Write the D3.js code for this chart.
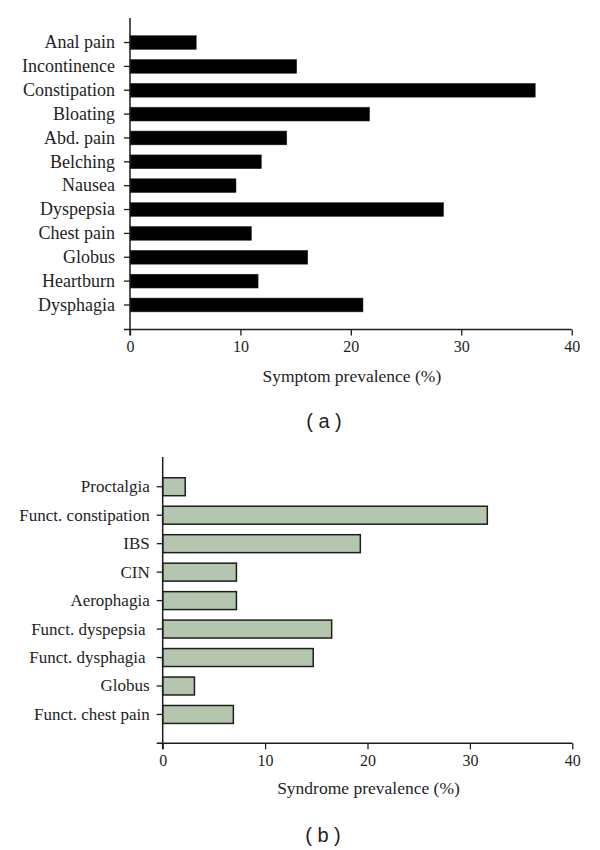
<!DOCTYPE html>
<html>
<head>
<meta charset="utf-8">
<script src="https://cdn.jsdelivr.net/npm/d3@7"></script>
<style>
  html, body { margin: 0; padding: 0; background: #fff; }
  svg { display: block; }
  .lbl { white-space: pre; }
</style>
</head>
<body>
<svg id="chart" width="600" height="850"></svg>
<script>
// ---- Data ----
const symptomCategories = ["Anal pain", "Incontinence", "Constipation", "Bloating", "Abd. pain", "Belching",
  "Nausea", "Dyspepsia", "Chest pain", "Globus", "Heartburn", "Dysphagia"];
const symptomValues = [6.0, 15.1, 36.7, 21.7, 14.2, 11.9, 9.6, 28.4, 11.0, 16.1, 11.6, 21.1];

const syndromeCategories = ["Proctalgia", "Funct. constipation", "IBS", "CIN", "Aerophagia",
  "Funct. dyspepsia ", "Funct. dysphagia ", "Globus", "Funct. chest pain"];
const syndromeValues = [2.2, 31.7, 19.3, 7.2, 7.2, 16.5, 14.7, 3.1, 6.9];

const xTickValues = [0, 10, 20, 30, 40];
const xTitles = ["Symptom prevalence (%)", "Syndrome prevalence (%)"];
const panelLabels = ["( a )", "( b )"];

// ---- Drawing ----
const svg = d3.select("#chart");
const serif = "'Liberation Serif', 'Times New Roman', serif";
const ink = "#1e1e1e";

function panel(cfg) {
  const g = svg.append("g");
  const x = d3.scaleLinear().domain([0, 40]).range([cfg.x0, cfg.x1]);
  const y = d3.scaleBand()
    .domain(cfg.categories)
    .range([cfg.bandTop, cfg.bandBottom])
    .paddingInner(cfg.pad)
    .paddingOuter(cfg.pad / 2);

  const data = cfg.categories.map((c, i) => ({ c, v: cfg.values[i] }));

  // bars
  g.selectAll("rect.bar").data(data).join("rect")
    .attr("class", "bar")
    .attr("x", x(0))
    .attr("y", d => y(d.c))
    .attr("width", d => x(d.v) - x(0))
    .attr("height", y.bandwidth())
    .attr("fill", cfg.fill)
    .attr("stroke", cfg.stroke)
    .attr("stroke-width", cfg.strokeWidth);

  // y axis (ticks + labels)
  const yAxis = d3.axisLeft(y).tickSizeOuter(0).tickSize(6).tickPadding(cfg.labelPad);
  const ya = g.append("g").attr("transform", `translate(${x(0)},0)`).call(yAxis);
  ya.select(".domain").remove();
  ya.selectAll(".tick line").attr("stroke", ink).attr("stroke-width", 1.3);
  ya.selectAll(".tick text")
    .attr("class", "lbl")
    .attr("font-family", serif)
    .attr("font-size", cfg.labelSize)
    .attr("fill", ink);

  // y axis line
  g.append("line")
    .attr("x1", x(0)).attr("x2", x(0))
    .attr("y1", cfg.axisTop).attr("y2", cfg.axisBottom + 6)
    .attr("stroke", ink).attr("stroke-width", 1.5);

  // x axis
  const xAxis = d3.axisBottom(x).tickValues(xTickValues).tickSize(6).tickSizeOuter(0).tickPadding(5)
    .tickFormat(d3.format("d"));
  const xa = g.append("g").attr("transform", `translate(0,${cfg.axisBottom})`).call(xAxis);
  xa.select(".domain").remove();
  xa.selectAll(".tick line").attr("stroke", ink).attr("stroke-width", 1.3);
  xa.selectAll(".tick text")
    .attr("font-family", serif)
    .attr("font-size", 16)
    .attr("fill", ink);
  g.append("line")
    .attr("x1", x(0) - 6).attr("x2", x(40))
    .attr("y1", cfg.axisBottom).attr("y2", cfg.axisBottom)
    .attr("stroke", ink).attr("stroke-width", 1.5);

  // x title
  g.append("text")
    .attr("x", (x(0) + x(40)) / 2 + 1)
    .attr("y", cfg.titleY)
    .attr("text-anchor", "middle")
    .attr("font-family", serif)
    .attr("font-size", 17.5)
    .attr("fill", ink)
    .text(cfg.title);

  // panel label
  g.append("text")
    .attr("x", cfg.panelX)
    .attr("y", cfg.panelY)
    .attr("text-anchor", "middle")
    .attr("font-family", "'Liberation Sans', Arial, sans-serif")
    .attr("font-size", 20)
    .attr("fill", ink)
    .text(cfg.panelLabel);
}

panel({
  categories: symptomCategories,
  values: symptomValues,
  x0: 130, x1: 571.7,
  bandTop: 30.6, bandBottom: 316.9, pad: 0.42,
  axisTop: 18, axisBottom: 329.5,
  fill: "#000", stroke: "#333", strokeWidth: 0.5,
  labelSize: 18, labelPad: 9,
  title: xTitles[0], titleY: 382,
  panelLabel: panelLabels[0], panelX: 324, panelY: 428
});

panel({
  categories: syndromeCategories,
  values: syndromeValues,
  x0: 162.7, x1: 572.3,
  bandTop: 472.5, bandBottom: 728.7, pad: 0.37,
  axisTop: 457, axisBottom: 743.3,
  fill: "#b4c7ae", stroke: "#1e1e1e", strokeWidth: 1.5,
  labelSize: 17, labelPad: 7,
  title: xTitles[1], titleY: 794,
  panelLabel: panelLabels[1], panelX: 323, panelY: 842
});
</script>
</body>
</html>
